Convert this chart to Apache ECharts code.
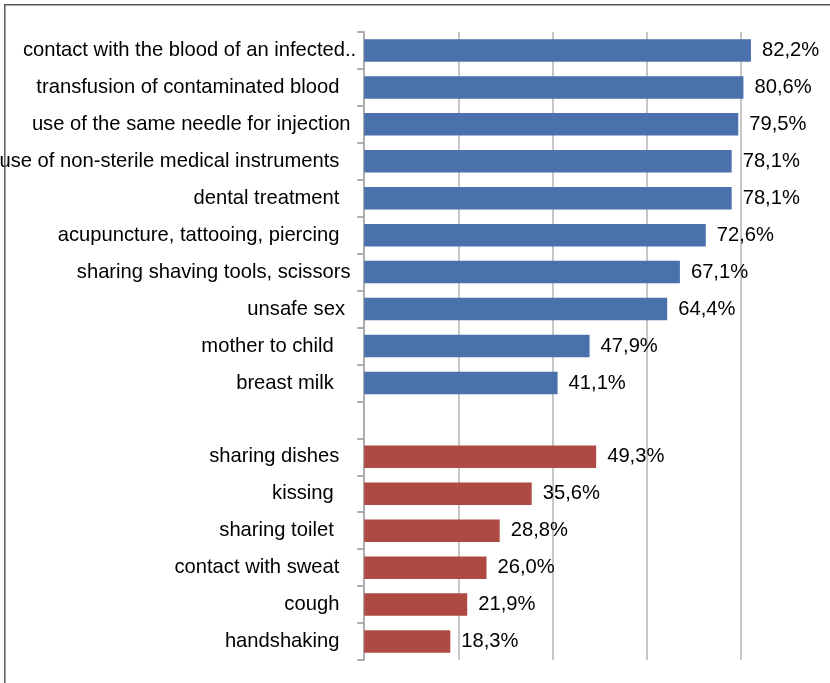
<!DOCTYPE html>
<html>
<head>
<meta charset="utf-8">
<script src="https://cdn.jsdelivr.net/npm/echarts@6/dist/echarts.min.js"></script>
<style>
  html, body { margin: 0; padding: 0; background: #ffffff; }
  #chart { width: 830px; height: 683px; }
</style>
</head>
<body>
<div id="chart"></div>
<script>
// Perceived routes of transmission (share of respondents, %)
const bloodRouteLabels = [
  'contact with the blood of an infected..',
  'transfusion of contaminated blood   ',
  'use of the same needle for injection ',
  'use of non-sterile medical instruments   ',
  'dental treatment   ',
  'acupuncture, tattooing, piercing   ',
  'sharing shaving tools, scissors ',
  'unsafe sex  ',
  'mother to child    ',
  'breast milk    '
];
const bloodRouteValues = [82.2, 80.6, 79.5, 78.1, 78.1, 72.6, 67.1, 64.4, 47.9, 41.1];

const otherRouteLabels = [
  'sharing dishes   ',
  'kissing    ',
  'sharing toilet    ',
  'contact with sweat   ',
  'cough   ',
  'handshaking   '
];
const otherRouteValues = [49.3, 35.6, 28.8, 26.0, 21.9, 18.3];

const xTickValues = [0, 20, 40, 60, 80, 100];

// one blank row separates the two groups
const categories = bloodRouteLabels.concat([''], otherRouteLabels);
const blank = n => Array(n).fill('-');
const bloodSeriesData = bloodRouteValues.concat(blank(1 + otherRouteValues.length));
const otherSeriesData = blank(bloodRouteValues.length + 1).concat(otherRouteValues);

const FONT = 'Liberation Sans, Arial, sans-serif';
const FONT_SIZE = 20.2;
const fmt = p => p.value.toFixed(1).replace('.', ',') + '%';
const valueLabel = {
  show: true,
  position: 'right',
  distance: 11,
  color: '#000',
  fontFamily: FONT,
  fontSize: FONT_SIZE,
  formatter: fmt
};

const chart = echarts.init(document.getElementById('chart'), null, { renderer: 'canvas' });
chart.setOption({
  animation: false,
  backgroundColor: '#ffffff',
  graphic: [{
    type: 'rect',
    shape: { x: 4.8, y: 4.8, width: 900, height: 900 },
    style: { fill: 'none', stroke: '#595959', lineWidth: 1.5 },
    silent: true,
    z: 100
  }],
  grid: {
    left: 364.2, top: 32, width: 470.5, height: 628,
    containLabel: false,
    outerBoundsMode: 'none'
  },
  xAxis: {
    type: 'value',
    min: xTickValues[0],
    max: xTickValues[xTickValues.length - 1],
    interval: xTickValues[1] - xTickValues[0],
    axisLabel: { show: false },
    axisLine: { show: false },
    axisTick: { show: false },
    splitLine: { show: true, lineStyle: { color: '#b5b5b5', width: 1.5 } }
  },
  yAxis: {
    type: 'category',
    inverse: true,
    data: categories,
    axisLine: { show: true, lineStyle: { color: '#acacac', width: 2 } },
    axisTick: { show: true, length: 7, lineStyle: { color: '#acacac', width: 2 } },
    axisLabel: {
      margin: 8,
      color: '#000',
      fontFamily: FONT,
      fontSize: FONT_SIZE,
      interval: 0
    }
  },
  series: [
    {
      name: 'blood routes',
      type: 'bar',
      data: bloodSeriesData,
      barWidth: 22.5,
      barGap: '-100%',
      itemStyle: { color: '#4a71ab' },
      label: valueLabel
    },
    {
      name: 'other routes',
      type: 'bar',
      data: otherSeriesData,
      barWidth: 22.5,
      barGap: '-100%',
      itemStyle: { color: '#ae4a43' },
      label: valueLabel
    }
  ]
});
</script>
</body>
</html>
